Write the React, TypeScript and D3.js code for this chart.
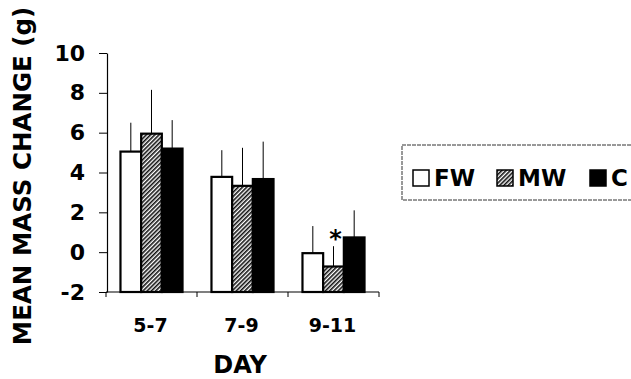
import { useEffect, useRef } from 'react';
import * as d3 from 'd3';

const days = ['5-7', '7-9', '9-11'];
const groups = ['FW', 'MW', 'C'];
// mean mass change per day, per group
const fwMeans = [5.05, 3.78, -0.05];
const mwMeans = [5.95, 3.33, -0.72];
const cMeans = [5.2, 3.67, 0.74];
// top of the (upper only) error bars
const fwErr = [6.5, 5.12, 1.31];
const mwErr = [8.15, 5.24, 0.3];
const cErr = [6.63, 5.55, 2.1];
const yTicks = [-2, 0, 2, 4, 6, 8, 10];
const starDay = '9-11';
const starGroup = 'MW';

const App = () => {
    const svgRef = useRef<SVGSVGElement>(null);

    useEffect(() => {
        const width = 631
        const height = 379
        const font = "'DejaVu Sans', Verdana, sans-serif"

        d3.select(svgRef.current).selectAll("*").remove();
        const svg = d3.select(svgRef.current)
            .attr("width", width)
            .attr("height", height)
            .style("font-family", font)

        svg.append("rect").attr("width", width).attr("height", height).attr("fill", "#fff")

        // diagonal hatch for MW
        const defs = svg.append("defs")
        const pat = defs.append("pattern")
            .attr("id", "hatch")
            .attr("patternUnits", "userSpaceOnUse")
            .attr("width", 3)
            .attr("height", 3)
            .attr("patternTransform", "rotate(-45)")
        pat.append("rect").attr("width", 3).attr("height", 3).attr("fill", "#fff")
        pat.append("rect").attr("width", 3).attr("height", 1.6).attr("fill", "#111")

        const fills: Record<string, string> = { FW: "#fff", MW: "url(#hatch)", C: "#000" }

        const means: Record<string, number[]> = { FW: fwMeans, MW: mwMeans, C: cMeans }
        const errs: Record<string, number[]> = { FW: fwErr, MW: mwErr, C: cErr }
        const rows = days.flatMap((day, i) => groups.map(g => ({
            day, group: g, value: means[g][i], err: errs[g][i]
        })))

        const x = d3.scaleBand().domain(days).range([106, 379])
        const xInner = d3.scaleBand().domain(groups).range([0, x.bandwidth()]).paddingOuter(0.7)
        const y = d3.scaleLinear().domain([-2, 10]).range([292, 53])

        // y axis, hyphen instead of unicode minus like the original
        const yAxis = svg.append("g")
            .attr("transform", `translate(107,0)`)
            .call(d3.axisLeft(y).tickValues(yTicks).tickSize(8).tickPadding(14).tickSizeOuter(0)
                .tickFormat(d => String(d)))
        yAxis.select(".domain").attr("stroke", "#000").attr("stroke-width", 1.2)
        yAxis.selectAll("line").attr("stroke", "#000")
        yAxis.selectAll("text")
            .style("font-family", font)
            .attr("font-size", 22)
            .attr("font-weight", "bold")
            .attr("fill", "#000")

        // bars
        const bars = svg.append("g")
        bars.selectAll("line.err")
            .data(rows)
            .enter()
            .append("line")
            .attr("class", "err")
            .attr("x1", d => (x(d.day) as number) + (xInner(d.group) as number) + xInner.bandwidth() / 2)
            .attr("x2", d => (x(d.day) as number) + (xInner(d.group) as number) + xInner.bandwidth() / 2)
            .attr("y1", d => y(d.value))
            .attr("y2", d => y(d.err))
            .attr("stroke", "#000")
            .attr("stroke-width", 1)

        bars.selectAll("rect")
            .data(rows)
            .enter()
            .append("rect")
            .attr("x", d => (x(d.day) as number) + (xInner(d.group) as number))
            .attr("y", d => y(d.value))
            .attr("width", xInner.bandwidth())
            .attr("height", d => y(-2) - y(d.value))
            .attr("fill", d => fills[d.group])
            .attr("stroke", "#000")
            .attr("stroke-width", 2.2)

        // x axis along the -2 line
        const xAxis = svg.append("g")
            .attr("transform", `translate(0,${y(-2)})`)
        xAxis.append("line")
            .attr("x1", 106).attr("x2", 379)
            .attr("stroke", "#000").attr("stroke-width", 1.2)
        xAxis.selectAll("line.tick")
            .data([...days.map(d => x(d) as number), 379])
            .enter()
            .append("line")
            .attr("class", "tick")
            .attr("x1", d => d).attr("x2", d => d)
            .attr("y1", 0).attr("y2", 5)
            .attr("stroke", "#000")
        xAxis.selectAll("text")
            .data(days)
            .enter()
            .append("text")
            .attr("x", d => (x(d) as number) + x.bandwidth() / 2 - 1)
            .attr("y", 40)
            .attr("text-anchor", "middle")
            .attr("font-size", 19)
            .attr("font-weight", "bold")
            .text(d => d)

        // significance star
        const starRow = rows.find(r => r.day === starDay && r.group === starGroup)!
        svg.append("text")
            .attr("x", (x(starDay) as number) + (xInner(starGroup) as number) + xInner.bandwidth() / 2 + 2)
            .attr("y", y(starRow.err) + 1)
            .attr("text-anchor", "middle")
            .attr("font-size", 24)
            .attr("font-weight", "bold")
            .text("*")

        // axis titles
        svg.append("text")
            .attr("x", 240)
            .attr("y", 373)
            .attr("text-anchor", "middle")
            .attr("font-size", 24)
            .attr("font-weight", "bold")
            .text("DAY")

        svg.append("text")
            .attr("transform", `translate(31,176) rotate(-90)`)
            .attr("text-anchor", "middle")
            .attr("font-size", 24.5)
            .attr("font-weight", "bold")
            .text("MEAN MASS CHANGE (g)")

        // legend, its box runs off the right edge
        const legend = svg.append("g")
        legend.append("rect")
            .attr("x", 402).attr("y", 145)
            .attr("width", 300).attr("height", 55)
            .attr("fill", "none")
            .attr("stroke", "#333")
            .attr("stroke-width", 1)
            .attr("stroke-dasharray", "4,1")
        const legendX = [413, 497, 590]
        const item = legend.selectAll("g.item")
            .data(groups)
            .enter()
            .append("g")
            .attr("transform", (d, i) => `translate(${legendX[i]},170)`)
        item.append("rect")
            .attr("width", 16).attr("height", 16)
            .attr("fill", d => fills[d])
            .attr("stroke", "#000")
            .attr("stroke-width", 1.5)
        item.append("text")
            .attr("x", 21)
            .attr("y", 16)
            .attr("font-size", 23)
            .attr("font-weight", "bold")
            .text(d => d)
    }, []);

    return (
        <svg ref={svgRef} style={{ position: 'absolute', left: 0, top: 0 }} />
    );
};
export default App;
